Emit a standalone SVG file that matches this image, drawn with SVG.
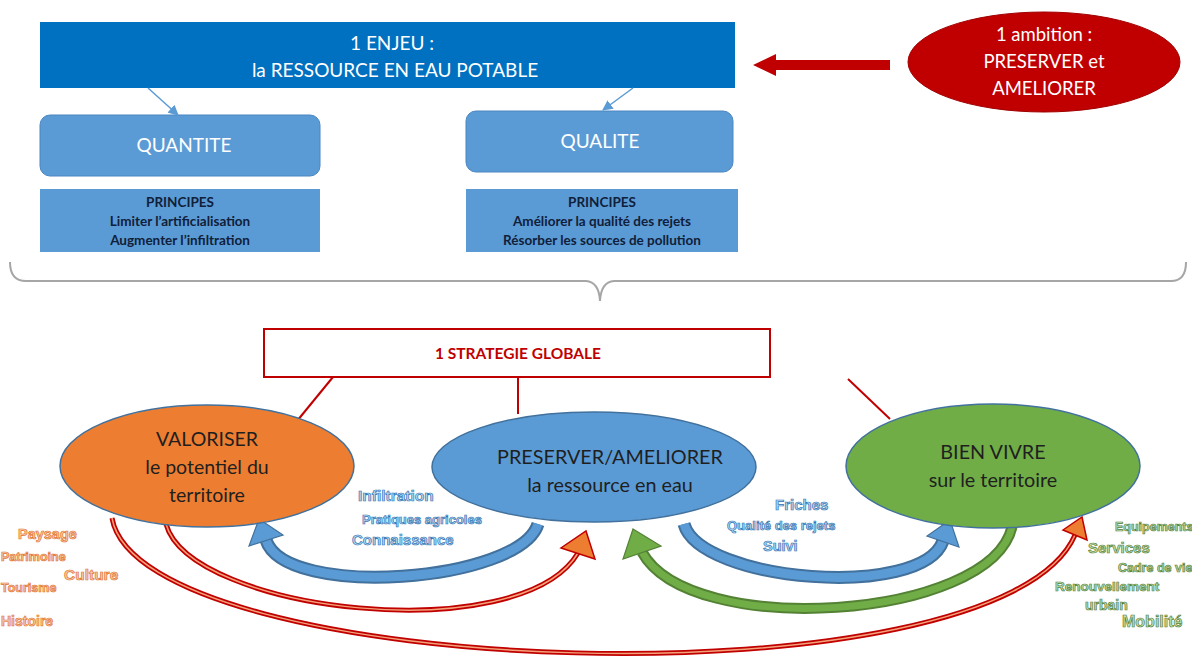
<svg xmlns="http://www.w3.org/2000/svg" width="1192" height="659" viewBox="0 0 1192 659">
<style>
.t{font-family:Lato,"Liberation Sans",sans-serif;text-anchor:middle}
.w{fill:#fff}
.k{fill:#1f1f1f}
.p{font-size:13.5px;font-weight:bold;fill:#10203a}
.box{fill:#5B9BD5}
.or{font-family:"Liberation Sans",sans-serif;font-weight:bold;fill:#F8CBAD;stroke:#E2732E;stroke-width:0.7}
.bl{font-family:"Liberation Sans",sans-serif;font-weight:bold;fill:#BDD7EE;stroke:#2E75B6;stroke-width:0.7}
.gr{font-family:"Liberation Sans",sans-serif;font-weight:bold;fill:#C5E0B4;stroke:#548235;stroke-width:0.7}
</style>
<defs>
<marker id="ah" viewBox="0 0 10 10" refX="9" refY="5" markerWidth="7" markerHeight="7" orient="auto"><path d="M0,0 L10,5 L0,10 z" fill="#5B9BD5"/></marker>
</defs>
<rect width="1192" height="659" fill="#fff"/>

<g id="enjeu">
<rect x="40" y="22" width="695" height="66" fill="#0070C0"/>
<text class="t w" x="392" y="50" font-size="19">1 ENJEU :</text>
<text class="t w" x="395" y="77" font-size="19">la RESSOURCE EN EAU POTABLE</text>
</g>

<g id="ambition">
<ellipse cx="1044" cy="62" rx="136" ry="50" fill="#C00000" stroke="#A00000" stroke-width="1"/>
<text class="t w" x="1044" y="41" font-size="18.5">1 ambition :</text>
<text class="t w" x="1044" y="68" font-size="18.5">PRESERVER et</text>
<text class="t w" x="1044" y="95" font-size="18.5">AMELIORER</text>
</g>

<g id="quantite">
<rect x="40" y="115" width="280" height="61" rx="10" fill="#5B9BD5" stroke="#4a86c0" stroke-width="1"/>
<text class="t w" x="184" y="152" font-size="19">QUANTITE</text>
</g>
<g id="qualite">
<rect x="466" y="111" width="267" height="61" rx="10" fill="#5B9BD5" stroke="#4a86c0" stroke-width="1"/>
<text class="t w" x="600" y="148" font-size="19">QUALITE</text>
</g>

<g id="principes-quantite">
<rect class="box" x="40" y="189" width="280" height="63"/>
<text class="t p" x="180" y="207">PRINCIPES</text>
<text class="t p" x="180" y="226">Limiter l’artificialisation</text>
<text class="t p" x="180" y="245">Augmenter l’infiltration</text>
</g>
<g id="principes-qualite">
<rect class="box" x="466" y="189" width="272" height="63"/>
<text class="t p" x="602" y="207">PRINCIPES</text>
<text class="t p" x="602" y="226">Améliorer la qualité des rejets</text>
<text class="t p" x="602" y="245">Résorber les sources de pollution</text>
</g>

<g id="strategie">
<rect x="264" y="329" width="506" height="48" fill="#fff" stroke="#C00000" stroke-width="2"/>
<text class="t" x="518" y="359" font-size="15.5" font-weight="bold" fill="#C00000">1 STRATEGIE GLOBALE</text>
</g>

<g id="connectors">
<line x1="148" y1="88" x2="178" y2="115" stroke="#5B9BD5" stroke-width="1.5" marker-end="url(#ah)"/>
<line x1="633" y1="88" x2="603" y2="110" stroke="#5B9BD5" stroke-width="1.5" marker-end="url(#ah)"/>
<path d="M890,60 L776,60 L776,54 L753,65 L776,76 L776,70 L890,70 z" fill="#C00000"/>
<path d="M10,262 Q10,281 26,281 L586,281 Q599,282 600,301 Q601,282 614,281 L1171,281 Q1186,281 1186,262" fill="none" stroke="#A6A6A6" stroke-width="2"/>
<line x1="333" y1="377" x2="297" y2="421" stroke="#C00000" stroke-width="2"/>
<line x1="518" y1="377" x2="518" y2="414" stroke="#C00000" stroke-width="2"/>
<line x1="848" y1="379" x2="890" y2="419" stroke="#C00000" stroke-width="2"/>

<path d="M112,518 C140,680 1000,710 1075,535" fill="none" stroke="#C00000" stroke-width="5"/>
<path d="M112,518 C140,680 1000,710 1075,535" fill="none" stroke="#F4A27A" stroke-width="1.5"/>
<polygon points="1082,517 1087,540 1063,530" fill="#ED7D31" stroke="#C00000" stroke-width="1.5"/>
<path d="M166,524 C190,612 520,650 578,553" fill="none" stroke="#C00000" stroke-width="5"/>
<path d="M166,524 C190,612 520,650 578,553" fill="none" stroke="#F4A27A" stroke-width="1.5"/>
<polygon points="586,531 595,559 561,548" fill="#ED7D31" stroke="#C00000" stroke-width="1.5"/>

<path d="M1012,527 C990,620 690,640 642,552" fill="none" stroke="#548235" stroke-width="11"/>
<path d="M1012,527 C990,620 690,640 642,552" fill="none" stroke="#70AD47" stroke-width="7"/>
<polygon points="633,529 661,546 623,559" fill="#70AD47" stroke="#548235" stroke-width="1.2"/>

<path d="M538,524 C520,582 285,600 266,540" fill="none" stroke="#41719C" stroke-width="13"/>
<path d="M538,524 C520,582 285,600 266,540" fill="none" stroke="#5B9BD5" stroke-width="9"/>
<polygon points="259,519 283,535 249,546" fill="#5B9BD5" stroke="#41719C" stroke-width="1.2"/>
<path d="M684,524 C700,582 922,600 943,541" fill="none" stroke="#41719C" stroke-width="13"/>
<path d="M684,524 C700,582 922,600 943,541" fill="none" stroke="#5B9BD5" stroke-width="9"/>
<polygon points="950,520 959,547 927,536" fill="#5B9BD5" stroke="#41719C" stroke-width="1.2"/>
</g>

<g id="valoriser">
<ellipse cx="207" cy="466" rx="147" ry="61" fill="#ED7D31" stroke="#41719C" stroke-width="1.5"/>
<text class="t k" x="207" y="446" font-size="19.5">VALORISER</text>
<text class="t k" x="207" y="474" font-size="19.5">le potentiel du</text>
<text class="t k" x="207" y="502" font-size="19.5">territoire</text>
</g>
<g id="preserver">
<ellipse cx="594" cy="467" rx="162" ry="55" fill="#5B9BD5" stroke="#41719C" stroke-width="1.5"/>
<text class="t k" x="610" y="464" font-size="19.8">PRESERVER/AMELIORER</text>
<text class="t k" x="610" y="492" font-size="19.8">la ressource en eau</text>
</g>
<g id="bienvivre">
<ellipse cx="993" cy="466" rx="147" ry="62" fill="#70AD47" stroke="#41719C" stroke-width="1.5"/>
<text class="t k" x="993" y="459" font-size="19.8">BIEN VIVRE</text>
<text class="t k" x="993" y="487" font-size="19.8">sur le territoire</text>
</g>

<g id="labels-valoriser">
<text class="or" x="18" y="539" font-size="14.5">Paysage</text>
<text class="or" x="1" y="561" font-size="12.5">Patrimoine</text>
<text class="or" x="64" y="580" font-size="15.5">Culture</text>
<text class="or" x="1" y="592" font-size="12.5">Tourisme</text>
<text class="or" x="1" y="626" font-size="14">Histoire</text>
</g>
<g id="labels-preserver">
<text class="bl" x="358" y="501" font-size="15.5">Infiltration</text>
<text class="bl" x="362" y="524" font-size="13">Pratiques agricoles</text>
<text class="bl" x="352" y="545" font-size="15">Connaissance</text>
<text class="bl" x="775" y="510" font-size="15">Friches</text>
<text class="bl" x="727" y="530" font-size="13">Qualité des rejets</text>
<text class="bl" x="763" y="551" font-size="14.5">Suivi</text>
</g>
<g id="labels-bienvivre">
<text class="gr" x="1115" y="531" font-size="12.5">Equipements</text>
<text class="gr" x="1088" y="553" font-size="15">Services</text>
<text class="gr" x="1118" y="572" font-size="12.5">Cadre de vie</text>
<text class="gr" x="1055" y="591" font-size="13.5">Renouvellement</text>
<text class="gr" x="1085" y="610" font-size="14">urbain</text>
<text class="gr" x="1122" y="627" font-size="16">Mobilité</text>
</g>
</svg>
